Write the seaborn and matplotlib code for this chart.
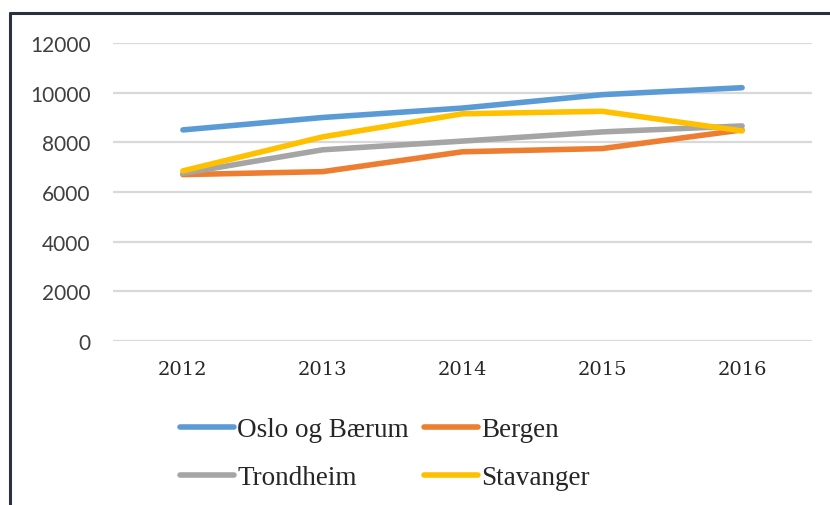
import matplotlib
matplotlib.use("Agg")
import matplotlib.pyplot as plt
from matplotlib.lines import Line2D
import seaborn as sns
import pandas as pd

years = ["2012", "2013", "2014", "2015", "2016"]
oslo = [8500, 9000, 9380, 9920, 10200]
bergen = [6700, 6820, 7620, 7750, 8500]
trondheim = [6750, 7700, 8050, 8420, 8660]
stavanger = [6850, 8220, 9150, 9250, 8460]
series_names = ["Oslo og Bærum", "Bergen", "Trondheim", "Stavanger"]
colors = ["#5b9bd5", "#ed7d31", "#a5a5a5", "#ffc000"]
y_ticks = [0, 2000, 4000, 6000, 8000, 10000, 12000]

rows = []
for name, vals in zip(series_names, [oslo, bergen, trondheim, stavanger]):
    for yr, v in zip(years, vals):
        rows.append({"Year": yr, "Value": v, "Series": name})
df = pd.DataFrame(rows)

sns.set_theme(style="white")
fig = plt.figure(figsize=(8.30, 5.06), dpi=100)
ax = fig.add_axes([113/830, 1-342/506, (812-113)/830, (342-44)/506])

sns.lineplot(data=df, x="Year", y="Value", hue="Series", hue_order=series_names,
             palette=colors, linewidth=4.0, ax=ax, legend=False, sort=False,
             solid_capstyle="round", zorder=3)

ax.set_xlim(-0.5, 4.5)
ax.set_ylim(0, 12000)
ax.set_yticks(y_ticks)
ax.set_yticklabels([str(t) for t in y_ticks], fontfamily="Lato", fontsize=15, color="#404040")
ax.set_xticks(range(len(years)))
ax.set_xticklabels(years, fontfamily="DejaVu Serif", fontsize=14, color="#262626")
ax.tick_params(axis="y", length=0, pad=16)
ax.tick_params(axis="x", length=0, pad=14)
ax.yaxis.grid(True, color="#d9d9d9", linewidth=1.6)
ax.set_axisbelow(True)
ax.set_xlabel("")
ax.set_ylabel("")
for s in ax.spines.values():
    s.set_visible(False)

# legend filled row-wise: Oslo, Bergen / Trondheim, Stavanger
order = [0, 2, 1, 3]
handles = [Line2D([0], [0], color=colors[i], linewidth=4.0, solid_capstyle="round") for i in order]
labels = [series_names[i] for i in order]
leg = fig.legend(handles, labels, ncol=2, loc="upper left",
                 bbox_to_anchor=(180/830, 1-418/506), frameon=False,
                 prop={"family": "Liberation Serif", "size": 19.5},
                 handlelength=2.0, handletextpad=0.12, columnspacing=0.55,
                 labelspacing=0.85, borderpad=0, borderaxespad=0)
for t in leg.get_texts():
    t.set_color("#262626")

# outer frame (top and left edges)
fig.add_artist(Line2D([10/830, 1.0], [1-14/506, 1-14/506], color="#2b323b", linewidth=2.2,
                      transform=fig.transFigure))
fig.add_artist(Line2D([10/830, 10/830], [0, 1-14/506], color="#2b323b", linewidth=2.2,
                      transform=fig.transFigure))

fig.savefig("out.png", dpi=100, facecolor="white")
